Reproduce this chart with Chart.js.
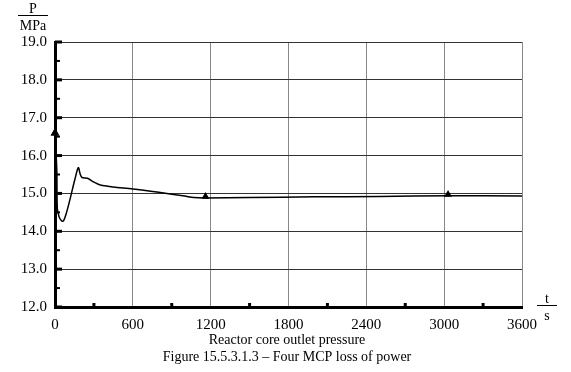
<!DOCTYPE html>
<html>
<head>
<meta charset="utf-8">
<script src="https://cdn.jsdelivr.net/npm/chart.js@4"></script>
<style>
  html, body { margin: 0; padding: 0; background: #fff; }
  #wrap { width: 571px; height: 372px; }
</style>
</head>
<body>
<div id="wrap"><canvas id="myChart" width="571" height="372"></canvas></div>
<script>
// reactor core outlet pressure, MPa vs time, s
const times = [0, 14, 18, 32, 50, 64, 85, 116, 154, 180, 195, 208, 250, 300, 350, 450, 600, 800, 1000, 1070, 1160, 1500, 2000, 2500, 3030, 3600];
const pressure = [16.6, 15.6, 14.6, 14.38, 14.28, 14.27, 14.45, 14.85, 15.38, 15.68, 15.5, 15.42, 15.40, 15.3, 15.22, 15.17, 15.12, 15.03, 14.93, 14.89, 14.88, 14.89, 14.91, 14.92, 14.94, 14.93];

const markerTimes = [0, 1160, 3030];
const markerValues = [16.6, 14.92, 14.97];

const xTicks = [0, 600, 1200, 1800, 2400, 3000, 3600];
const yTicks = [12, 13, 14, 15, 16, 17, 18, 19];

const xTitle = 'Reactor core outlet pressure';
const caption = 'Figure 15.5.3.1.3 – Four MCP loss of power';

const serif = "'Liberation Serif', 'Times New Roman', serif";
Chart.defaults.font.family = serif;
Chart.defaults.color = '#000';

const extras = {
  id: 'extras',
  afterDraw(chart) {
    const ctx = chart.ctx;
    const xs = chart.scales.x, ys = chart.scales.y;
    const area = chart.chartArea;
    ctx.save();
    ctx.strokeStyle = '#000';
    // inner ticks on the y axis
    for (let v = 12; v <= 19; v += 0.5) {
      const y = ys.getPixelForValue(v);
      const major = Number.isInteger(v);
      ctx.lineWidth = major ? 3 : 2;
      ctx.beginPath();
      ctx.moveTo(area.left, y);
      ctx.lineTo(area.left + (major ? 7 : 5), y);
      ctx.stroke();
    }
    // inner ticks on the x axis
    for (let t = 300; t < 3600; t += 600) {
      const x = xs.getPixelForValue(t);
      ctx.lineWidth = 3;
      ctx.beginPath();
      ctx.moveTo(x, area.bottom);
      ctx.lineTo(x, area.bottom - 4);
      ctx.stroke();
    }
    // unit labels
    ctx.fillStyle = '#000';
    ctx.font = '14px ' + serif;
    ctx.textAlign = 'center';
    ctx.textBaseline = 'middle';
    ctx.fillText('P', 33, 9);
    ctx.lineWidth = 1;
    ctx.beginPath();
    ctx.moveTo(18, 15.5);
    ctx.lineTo(48, 15.5);
    ctx.stroke();
    ctx.fillText('MPa', 33, 26);

    ctx.fillText('t', 547, 299);
    ctx.beginPath();
    ctx.moveTo(537, 305.5);
    ctx.lineTo(557, 305.5);
    ctx.stroke();
    ctx.fillText('s', 547, 316);

    // captions
    ctx.fillText(xTitle, 287, 340);
    ctx.fillText(caption, 287, 357);

    // triangle marker at t = 0 sits on the axis line, redraw it above the border
    const mx = xs.getPixelForValue(markerTimes[0]);
    const my = ys.getPixelForValue(markerValues[0]);
    ctx.beginPath();
    ctx.moveTo(mx, my - 5);
    ctx.lineTo(mx + 4.5, my + 3);
    ctx.lineTo(mx - 4.5, my + 3);
    ctx.closePath();
    ctx.fill();
    ctx.restore();
  }
};

new Chart(document.getElementById('myChart'), {
  type: 'scatter',
  data: {
    datasets: [{
      data: times.map((t, i) => ({ x: t, y: pressure[i] })),
      showLine: true,
      borderColor: '#000',
      borderWidth: 1.5,
      pointRadius: 0,
      tension: 0.3,
      clip: false
    }, {
      data: markerTimes.map((t, i) => ({ x: t, y: markerValues[i] })),
      pointStyle: 'triangle',
      pointRadius: 4.5,
      pointBackgroundColor: '#000',
      pointBorderColor: '#000',
      borderWidth: 0,
      clip: false
    }]
  },
  options: {
    responsive: false,
    animation: false,
    layout: { padding: { top: 42, right: 49, left: 0, bottom: 0 } },
    plugins: {
      legend: { display: false },
      tooltip: { enabled: false }
    },
    scales: {
      x: {
        type: 'linear',
        min: 0,
        max: 3600,
        afterBuildTicks: (scale) => { scale.ticks = xTicks.map(v => ({ value: v })); },
        ticks: { font: { size: 15 }, padding: 9, maxRotation: 0, autoSkip: false, callback: v => String(v) },
        grid: { color: '#888', lineWidth: 1, drawTicks: false },
        border: { color: '#000', width: 3 },
        afterFit: (scale) => { scale.height = 65; }
      },
      y: {
        min: 12,
        max: 19,
        afterBuildTicks: (scale) => { scale.ticks = yTicks.map(v => ({ value: v })); },
        ticks: { font: { size: 15 }, padding: 8, callback: v => v.toFixed(1) },
        grid: { color: '#333', lineWidth: 1, drawTicks: false },
        border: { color: '#000', width: 3 },
        afterFit: (scale) => { scale.height; scale.width = 55; }
      }
    }
  },
  plugins: [extras]
});
</script>
</body>
</html>
